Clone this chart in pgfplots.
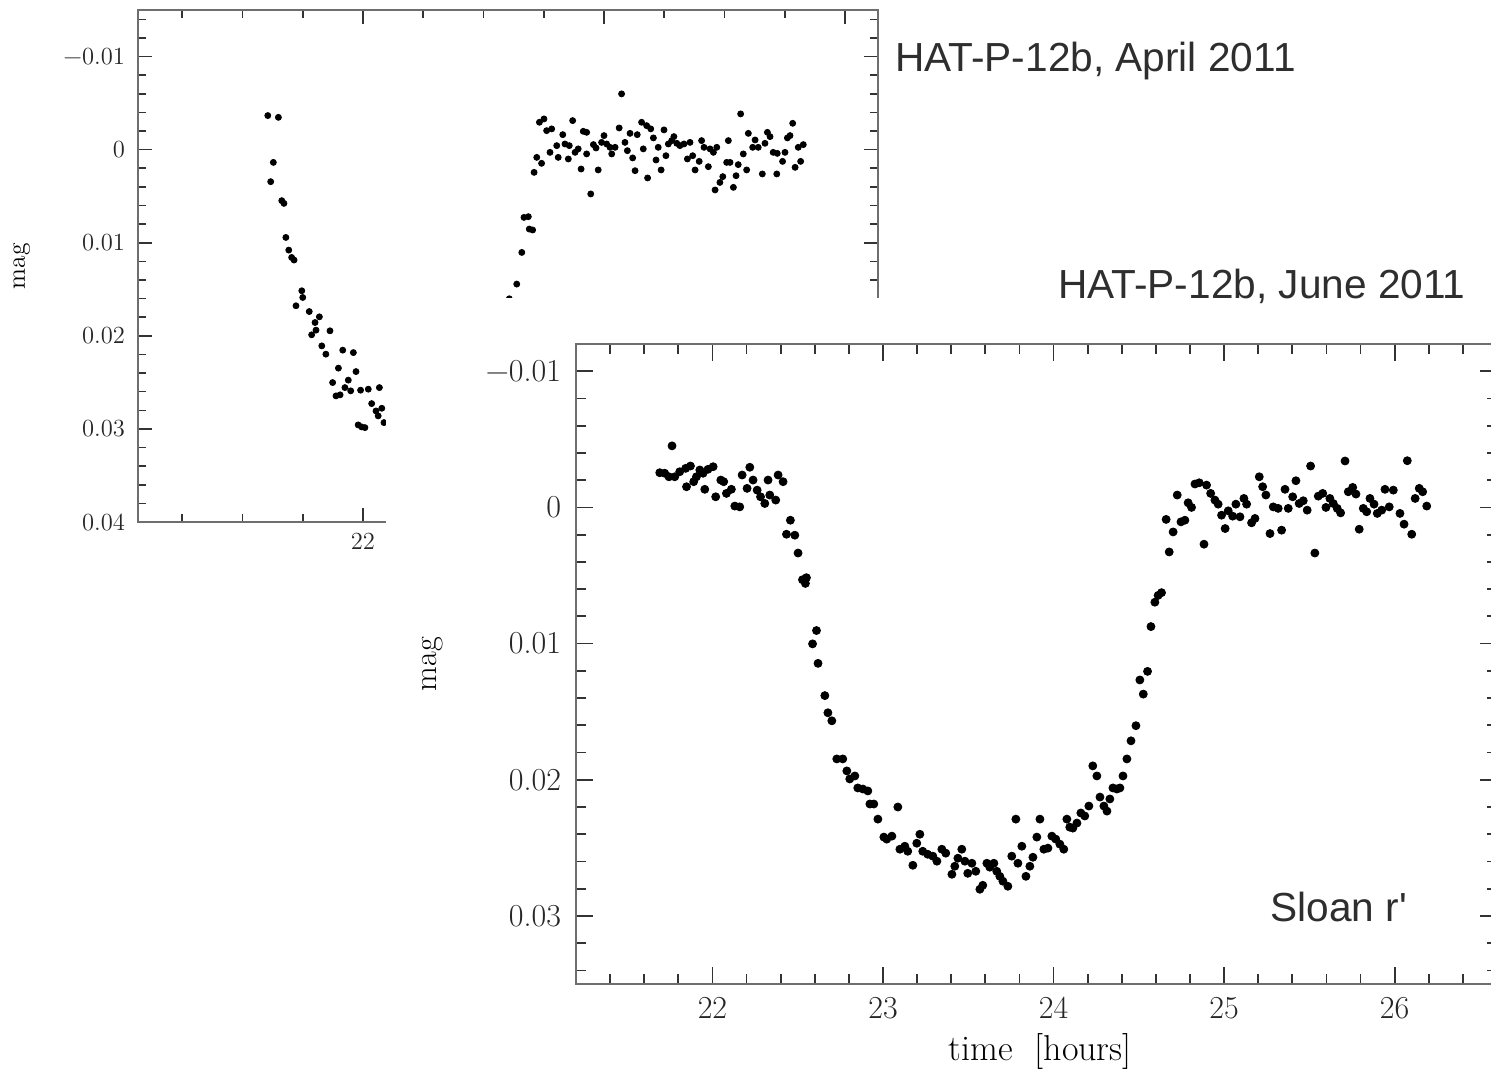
\documentclass[border=0pt]{standalone}
\usepackage{fontspec}
\usepackage{pgfplots}
\pgfplotsset{compat=1.18}
\newfontfamily\arialfont{Liberation Sans}
\definecolor{spine}{HTML}{6E6E6E}
\definecolor{tickc}{HTML}{333333}
\definecolor{titlec}{HTML}{2E2E2E}
\begin{document}
\begin{tikzpicture}
% ---------------- back panel: April 2011 ----------------
\begin{axis}[
  at={(69pt,-261pt)}, anchor=south west, scale only axis,
  width=370pt, height=256pt,
  xmin=21.0664, xmax=24.137, ymin=-0.015, ymax=0.04, y dir=reverse,
  axis line style={draw=spine, line width=1.2pt},
  every tick/.style={draw=tickc, line width=0.8pt},
  tick align=inside, major tick length=7pt, minor tick length=4pt,
  xtick={22,23,24}, xticklabels={22,23,24},
  minor xtick={21.25,21.5,21.75,22.25,22.5,22.75,23.25,23.5,23.75},
  ytick={-0.01,0,0.01,0.02,0.03,0.04},
  yticklabels={−0.01,0,0.01,0.02,0.03,0.04},
  minor ytick={-0.014,-0.012,-0.008,-0.006,-0.004,-0.002,0.002,0.004,0.006,0.008,0.012,0.014,0.016,0.018,0.022,0.024,0.026,0.028,0.032,0.034,0.036,0.038},
  scaled y ticks=false, scaled x ticks=false,
  tick label style={font=\fontsize{12.3}{14}\selectfont, text=black!85},
  yticklabel style={xshift=-3pt},
  xticklabel style={yshift=-2pt},
  ylabel={mag},
  every axis y label/.style={at={(axis description cs:-0.157,0.5)}, rotate=90, anchor=center, font=\fontsize{12.8}{15}\selectfont},
]
\addplot[only marks, mark=*, mark size=1.5pt, black] coordinates {
(21.605,-0.00366) (21.649,-0.00347) (21.628,0.00137) (21.617,0.00344) (21.663,0.00548)
(21.672,0.00577) (21.680,0.00943) (21.692,0.01079) (21.704,0.01158) (21.714,0.01186)
(21.746,0.01516) (21.750,0.01588) (21.722,0.01677) (21.777,0.01739) (21.801,0.01857)
(21.819,0.01796) (21.805,0.01939) (21.787,0.01989) (21.863,0.01946) (21.829,0.02108)
(21.846,0.02197) (21.916,0.02154) (21.960,0.02180) (21.898,0.02347) (21.971,0.02384)
(21.874,0.02502) (21.939,0.02476) (21.888,0.02645) (21.905,0.02634) (21.925,0.02556)
(21.949,0.02591) (21.990,0.02584) (22.022,0.02573) (22.068,0.02556) (22.036,0.02728)
(22.054,0.02807) (22.078,0.02778) (22.063,0.02860) (22.087,0.02932) (21.980,0.02957)
(22.008,0.02986) (21.994,0.02978)
(22.607,0.01602) (22.638,0.01444) (22.659,0.01104) (22.668,0.00728) (22.686,0.00720)
(22.690,0.00853) (22.704,0.00863) (22.710,0.00244) (22.721,0.00083) (22.741,0.00147)
(22.732,-0.00294) (22.751,-0.00330) (22.762,-0.00204) (22.783,-0.00223) (22.776,0.00029)
(22.804,-0.00043) (22.810,0.00083) (22.829,-0.00161) (22.838,-0.00061) (22.856,-0.00043)
(22.852,0.00100) (22.870,-0.00312) (22.880,0.00029) (22.893,-0.00008) (22.905,0.00208)
(22.914,-0.00197) (22.928,-0.00186) (22.928,0.00046) (22.945,0.00476) (22.956,-0.00054)
(22.967,-0.00018) (22.976,0.00218) (22.990,-0.00078) (23.000,-0.00151) (23.011,-0.00061)
(23.025,-0.00025) (23.032,0.00046) (23.046,-0.00025) (23.063,-0.00233) (23.073,-0.00599)
(23.087,-0.00078) (23.097,0.00011) (23.108,-0.00175) (23.119,0.00089) (23.129,0.00226)
(23.138,-0.00161) (23.156,-0.00294) (23.163,-0.00008) (23.177,-0.00258) (23.194,-0.00223)
(23.181,0.00304) (23.205,-0.00126) (23.216,0.00111) (23.225,-0.00025) (23.237,0.00218)
(23.249,-0.00212) (23.257,0.00065) (23.267,-0.00061) (23.281,-0.00097) (23.290,-0.00140)
(23.302,-0.00068) (23.315,-0.00043) (23.332,-0.00061) (23.346,0.00100) (23.357,-0.00078)
(23.368,0.00065) (23.378,0.00218) (23.395,0.00126) (23.405,-0.00097) (23.415,-0.00025)
(23.433,0.00183) (23.440,-0.00008) (23.454,0.00029) (23.468,-0.00025) (23.461,0.00433)
(23.481,0.00352) (23.493,0.00290) (23.516,-0.00097) (23.509,0.00137) (23.523,0.00137)
(23.537,0.00405) (23.548,0.00280) (23.557,0.00161) (23.567,-0.00384) (23.578,0.00046)
(23.592,0.00218) (23.599,-0.00175) (23.617,-0.00025) (23.627,-0.00104) (23.640,-0.00025)
(23.657,0.00261) (23.668,-0.00068) (23.678,-0.00186) (23.689,-0.00140) (23.702,0.00029)
(23.717,0.00261) (23.719,0.00040) (23.741,0.00126) (23.751,0.00029) (23.761,-0.00126)
(23.772,-0.00151) (23.783,-0.00283) (23.793,0.00190) (23.806,-0.00025) (23.816,0.00126)
(23.827,-0.00054)
};
\end{axis}
% white sheet of the front panel
\fill[white] (193pt,-149pt) rectangle (760pt,-540pt);
% ---------------- front panel: June 2011 ----------------
\begin{axis}[
  at={(288pt,-492pt)}, anchor=south west, scale only axis,
  width=460.5pt, height=320pt,
  xmin=21.2, xmax=26.6, ymin=-0.012, ymax=0.035, y dir=reverse,
  axis line style={draw=spine, line width=1.3pt},
  every tick/.style={draw=tickc, line width=0.9pt},
  tick align=inside, major tick length=8.5pt, minor tick length=5pt,
  xtick={22,23,24,25,26}, xticklabels={22,23,24,25,26},
  minor xtick={21.4,21.6,21.8,22.2,22.4,22.6,22.8,23.2,23.4,23.6,23.8,24.2,24.4,24.6,24.8,25.2,25.4,25.6,25.8,26.2,26.4},
  ytick={-0.01,0,0.01,0.02,0.03},
  yticklabels={−0.01,0,0.01,0.02,0.03},
  minor ytick={-0.008,-0.006,-0.004,-0.002,0.002,0.004,0.006,0.008,0.012,0.014,0.016,0.018,0.022,0.024,0.026,0.028,0.032,0.034},
  scaled y ticks=false, scaled x ticks=false,
  tick label style={font=\fontsize{16}{19}\selectfont, text=black!85},
  yticklabel style={xshift=-4pt},
  xticklabel style={yshift=-3pt},
  xlabel={time\ \ [hours]}, ylabel={mag},
  every axis x label/.style={at={(axis description cs:0.504,-0.106)}, anchor=center, font=\fontsize{18}{21}\selectfont},
  every axis y label/.style={at={(axis description cs:-0.156,0.5)}, rotate=90, anchor=center, font=\fontsize{16}{19}\selectfont},
]
\addplot[only marks, mark=*, mark size=2pt, black] coordinates {
(21.691,-0.00255) (21.720,-0.00251) (21.763,-0.00452) (21.745,-0.00225) (21.779,-0.00225)
(21.808,-0.00262) (21.843,-0.00287) (21.848,-0.00152) (21.871,-0.00304) (21.890,-0.00189)
(21.906,-0.00225) (21.926,-0.00275) (21.945,-0.00251) (21.955,-0.00133) (21.974,-0.00280)
(22.004,-0.00299) (22.019,-0.00078) (22.049,-0.00201) (22.066,-0.00189) (22.082,-0.00103)
(22.111,-0.00133) (22.131,-0.00010) (22.160,-0.00004) (22.174,-0.00238) (22.203,-0.00140)
(22.219,-0.00295) (22.238,-0.00201) (22.262,-0.00127) (22.282,-0.00078) (22.307,-0.00029)
(22.326,-0.00201) (22.336,-0.00091) (22.371,-0.00054) (22.385,-0.00238) (22.414,-0.00189)
(22.457,0.00094) (22.434,0.00197) (22.483,0.00204) (22.502,0.00335) (22.528,0.00531)
(22.551,0.00516) (22.545,0.00558) (22.587,0.01002) (22.610,0.00904) (22.619,0.01145)
(22.659,0.01382) (22.677,0.01508) (22.700,0.01567) (22.729,0.01847) (22.764,0.01847)
(22.788,0.01935) (22.805,0.01994) (22.835,0.01972) (22.852,0.02060) (22.882,0.02068)
(22.911,0.02082) (22.923,0.02178) (22.946,0.02178) (22.970,0.02289) (23.005,0.02421)
(23.022,0.02436) (23.052,0.02414) (23.087,0.02200) (23.099,0.02510) (23.128,0.02488)
(23.145,0.02525) (23.175,0.02628) (23.198,0.02466) (23.216,0.02400) (23.233,0.02525)
(23.262,0.02547) (23.292,0.02561) (23.316,0.02598) (23.345,0.02510) (23.368,0.02539)
(23.404,0.02694) (23.421,0.02635) (23.439,0.02576) (23.462,0.02510) (23.480,0.02598)
(23.497,0.02687) (23.521,0.02613) (23.544,0.02672) (23.568,0.02804) (23.585,0.02775)
(23.609,0.02613) (23.626,0.02642) (23.650,0.02613) (23.667,0.02672) (23.685,0.02709)
(23.703,0.02745) (23.732,0.02782) (23.755,0.02561) (23.779,0.02289) (23.791,0.02613)
(23.814,0.02488) (23.838,0.02709) (23.861,0.02635) (23.879,0.02569) (23.902,0.02421)
(23.920,0.02289) (23.943,0.02510) (23.967,0.02502) (23.990,0.02414) (24.013,0.02436)
(24.037,0.02473) (24.060,0.02510) (24.078,0.02289) (24.095,0.02348) (24.113,0.02355)
(24.137,0.02318) (24.160,0.02244) (24.183,0.02266) (24.207,0.02193) (24.230,0.01898)
(24.254,0.01972) (24.272,0.02127) (24.295,0.02193) (24.313,0.02230) (24.330,0.02141)
(24.348,0.02060) (24.371,0.02068) (24.389,0.02060) (24.407,0.01972) (24.430,0.01847)
(24.454,0.01714) (24.483,0.01603) (24.506,0.01267) (24.526,0.01371) (24.551,0.01204)
(24.571,0.00875) (24.594,0.00696) (24.613,0.00646) (24.633,0.00626) (24.660,0.00088)
(24.678,0.00327) (24.701,0.00180) (24.725,-0.00091) (24.747,0.00106) (24.770,0.00094)
(24.789,-0.00034) (24.809,0.00000) (24.829,-0.00172) (24.854,-0.00181) (24.882,0.00270)
(24.897,-0.00164) (24.921,-0.00103) (24.946,-0.00054) (24.965,-0.00024) (24.985,0.00057)
(25.006,0.00155) (25.024,0.00025) (25.050,0.00064) (25.069,-0.00024) (25.093,0.00069)
(25.116,-0.00066) (25.132,-0.00024) (25.161,0.00113) (25.181,0.00081) (25.206,-0.00225)
(25.226,-0.00152) (25.245,-0.00091) (25.269,0.00192) (25.288,-0.00004) (25.317,0.00007)
(25.337,0.00167) (25.357,-0.00133) (25.376,0.00007) (25.402,-0.00078) (25.421,-0.00196)
(25.440,-0.00029) (25.464,-0.00049) (25.487,0.00020) (25.507,-0.00304) (25.532,0.00335)
(25.552,-0.00083) (25.578,-0.00103) (25.597,0.00000) (25.620,-0.00066) (25.640,-0.00029)
(25.663,0.00007) (25.683,0.00040) (25.709,-0.00341) (25.728,-0.00115) (25.754,-0.00147)
(25.773,-0.00098) (25.792,0.00160) (25.816,0.00007) (25.836,0.00032) (25.855,-0.00066)
(25.879,-0.00024) (25.898,0.00044) (25.924,0.00020) (25.943,-0.00133) (25.968,-0.00004)
(25.992,-0.00127) (26.031,0.00044) (26.055,0.00123) (26.074,-0.00343) (26.100,0.00197)
(26.120,-0.00066) (26.144,-0.00140) (26.164,-0.00115) (26.188,-0.00010)
};
\end{axis}
% ---------------- annotations ----------------
\node[anchor=base west, inner sep=0pt, text=titlec, font=\arialfont\fontsize{20.3}{24}\selectfont] at (447.5pt,-36pt) {HAT-P-12b, April 2011};
\node[anchor=base west, inner sep=0pt, text=titlec, font=\arialfont\fontsize{20.3}{24}\selectfont] at (529pt,-149pt) {HAT-P-12b, June 2011};
\node[anchor=base west, inner sep=0pt, text=titlec, font=\arialfont\fontsize{20.3}{24}\selectfont] at (635pt,-460.5pt) {Sloan r'};
\pgfresetboundingbox
\useasboundingbox (0pt,0pt) rectangle (745.5pt,-535pt);
\end{tikzpicture}
\end{document}
